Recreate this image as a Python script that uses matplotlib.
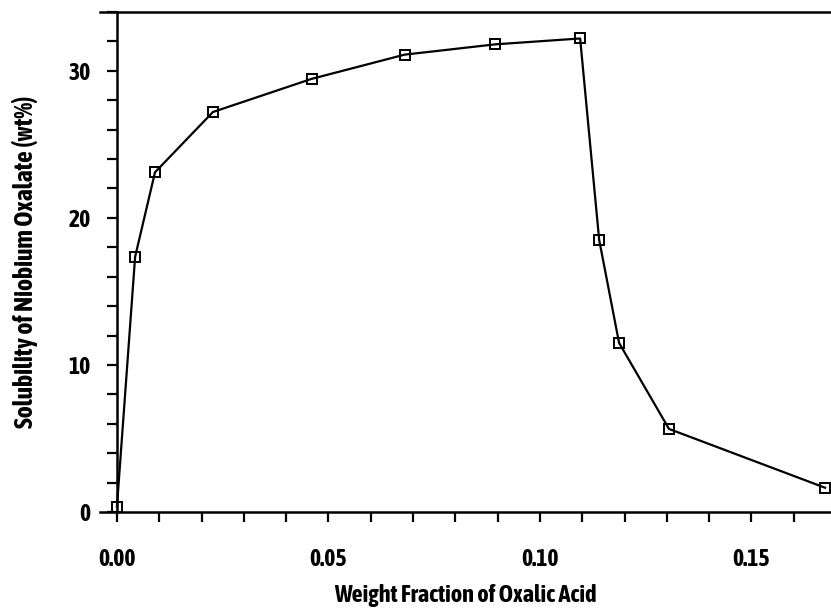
import matplotlib
matplotlib.use("Agg")
import matplotlib.pyplot as plt
from matplotlib.ticker import MultipleLocator, FixedLocator

plt.rcParams['font.family'] = ['Asap Condensed', 'DejaVu Sans']

oxalic_fraction = [0.0, 0.0043, 0.009, 0.0227, 0.046, 0.068, 0.0894, 0.1095, 0.114, 0.1187, 0.1305, 0.1674]
solubility = [0.35, 17.35, 23.1, 27.2, 29.45, 31.1, 31.8, 32.2, 18.5, 11.5, 5.65, 1.65]
x_tick_labels = ["0.00", "0.05", "0.10", "0.15"]
x_tick_values = [0.0, 0.05, 0.10, 0.15]
y_tick_values = [0, 10, 20, 30]
y_tick_labels = ["0", "10", "20", "30"]

fig = plt.figure(figsize=(8.31, 6.11), dpi=100)
ax = fig.add_axes([100/831, 99/611, 731/831, 500/611])

ax.plot(oxalic_fraction, solubility, color='black', lw=1.6,
        marker='s', markersize=7, markerfacecolor='none',
        markeredgecolor='black', markeredgewidth=1.4, clip_on=False, zorder=3)

ax.set_xlim(-0.004, 0.1688)
ax.set_ylim(0, 34)

ax.spines['left'].set_position(('data', 0.0))
ax.spines['right'].set_visible(False)
for s in ['left', 'bottom', 'top']:
    ax.spines[s].set_linewidth(1.8)

ax.xaxis.set_major_locator(FixedLocator(x_tick_values))
ax.set_xticklabels(x_tick_labels)
ax.xaxis.set_minor_locator(MultipleLocator(0.01))
ax.yaxis.set_major_locator(FixedLocator(y_tick_values))
ax.set_yticklabels(y_tick_labels)
ax.yaxis.set_minor_locator(MultipleLocator(2))

ax.tick_params(axis='both', which='both', direction='out', length=7, width=1.6)
ax.tick_params(axis='x', which='major', pad=19, labelsize=17)
ax.tick_params(axis='y', which='major', pad=12, labelsize=17)
for lbl in ax.get_xticklabels() + ax.get_yticklabels():
    lbl.set_fontweight('bold')

ax.set_xlabel("Weight Fraction of Oxalic Acid", fontsize=17.5, fontweight='bold', labelpad=9)
ax.set_ylabel("Solubility of Niobium Oxalate (wt%)", fontsize=18.5, fontweight='bold', labelpad=22)

fig.savefig("out.png", dpi=100)
